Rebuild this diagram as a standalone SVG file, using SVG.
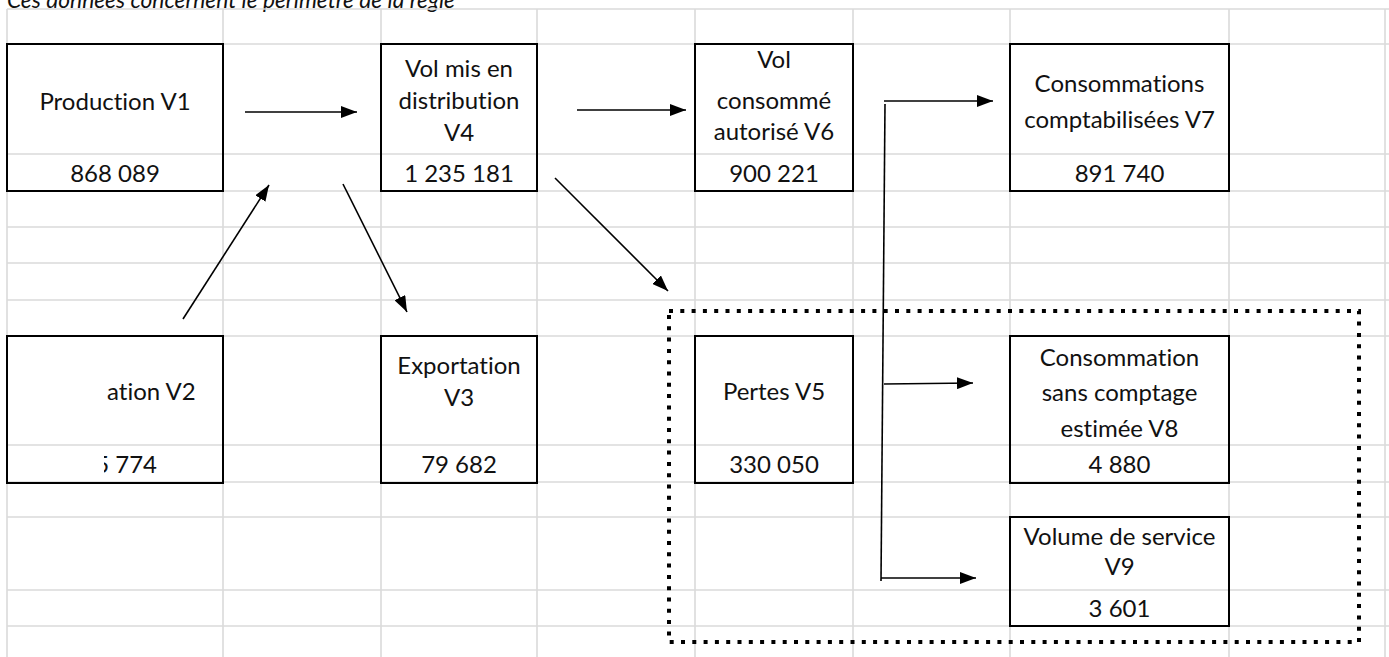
<svg xmlns="http://www.w3.org/2000/svg" width="1389" height="657" viewBox="0 0 1389 657">
<style>
  .grid line { stroke: #dadada; stroke-width: 1.6; }
  .box { fill: none; stroke: #000; stroke-width: 2; }
  .t { font-family: Lato, "Liberation Sans", sans-serif; font-size: 24px; fill: #111; text-anchor: middle; font-variant-ligatures: none; }
  .title { font-family: Lato, "Liberation Sans", sans-serif; font-size: 24px; font-style: italic; fill: #111; font-variant-ligatures: none; }
  .conn { stroke: #000; stroke-width: 1.6; fill: none; }
  .dotted { fill: none; stroke: #000; stroke-width: 4; stroke-dasharray: 4 7.3; }
</style>
<defs>
  <marker id="ah" viewBox="0 0 16 12" refX="16" refY="6" markerWidth="16" markerHeight="12" markerUnits="userSpaceOnUse" orient="auto">
    <path d="M0,0 L16,6 L0,12 z" fill="#000"/>
  </marker>
  <clipPath id="clipV2">
    <rect x="104" y="330" width="130" height="160"/>
  </clipPath>
</defs>
<rect width="1389" height="657" fill="#fff"/>
<text class="title" x="7" y="8" textLength="448" lengthAdjust="spacingAndGlyphs">Ces données concernent le périmètre de la règle</text>
<g class="grid" id="grid">
  <line x1="7" y1="9" x2="7" y2="657"/>
  <line x1="223" y1="9" x2="223" y2="657"/>
  <line x1="381" y1="9" x2="381" y2="657"/>
  <line x1="537" y1="9" x2="537" y2="657"/>
  <line x1="695" y1="9" x2="695" y2="657"/>
  <line x1="853" y1="9" x2="853" y2="657"/>
  <line x1="1010" y1="9" x2="1010" y2="657"/>
  <line x1="1229" y1="9" x2="1229" y2="657"/>
  <line x1="1385" y1="9" x2="1385" y2="657"/>
  <line x1="7" y1="9" x2="1389" y2="9"/>
  <line x1="7" y1="44" x2="1389" y2="44"/>
  <line x1="7" y1="154" x2="1389" y2="154"/>
  <line x1="7" y1="191" x2="1389" y2="191"/>
  <line x1="7" y1="227" x2="1389" y2="227"/>
  <line x1="7" y1="263" x2="1389" y2="263"/>
  <line x1="7" y1="300" x2="1389" y2="300"/>
  <line x1="7" y1="336" x2="1389" y2="336"/>
  <line x1="7" y1="445" x2="1389" y2="445"/>
  <line x1="7" y1="482" x2="1389" y2="482"/>
  <line x1="7" y1="517" x2="1389" y2="517"/>
  <line x1="7" y1="590" x2="1389" y2="590"/>
  <line x1="7" y1="626" x2="1389" y2="626"/>
</g>
<g id="node-v1">
  <rect class="box" x="7" y="44" width="216" height="147"/>
  <text class="t" x="115" y="110">Production V1</text>
  <text class="t" x="115" y="182">868 089</text>
</g>
<g id="node-v4">
  <rect class="box" x="381" y="44" width="156" height="147"/>
  <text class="t" x="459" y="77">Vol mis en</text>
  <text class="t" x="459" y="109">distribution</text>
  <text class="t" x="459" y="141">V4</text>
  <text class="t" x="459" y="182">1 235 181</text>
</g>
<g id="node-v6">
  <rect class="box" x="695" y="44" width="158" height="147"/>
  <text class="t" x="774" y="68">Vol</text>
  <text class="t" x="774" y="109">consommé</text>
  <text class="t" x="774" y="140">autorisé V6</text>
  <text class="t" x="774" y="182">900 221</text>
</g>
<g id="node-v7">
  <rect class="box" x="1010" y="44" width="219" height="147"/>
  <text class="t" x="1119.5" y="92">Consommations</text>
  <text class="t" x="1119.5" y="128">comptabilisées V7</text>
  <text class="t" x="1119.5" y="182">891 740</text>
</g>
<g id="node-v2">
  <rect class="box" x="7" y="336" width="216" height="147"/>
  <g clip-path="url(#clipV2)">
    <text class="t" x="107" y="400" style="text-anchor:start">ation V2</text>
    <text class="t" x="157" y="473" style="text-anchor:end">5 774</text>
  </g>
</g>
<g id="node-v3">
  <rect class="box" x="381" y="336" width="156" height="147"/>
  <text class="t" x="459" y="374">Exportation</text>
  <text class="t" x="459" y="406">V3</text>
  <text class="t" x="459" y="473">79 682</text>
</g>
<g id="node-v5">
  <rect class="box" x="695" y="336" width="158" height="147"/>
  <text class="t" x="774" y="400">Pertes V5</text>
  <text class="t" x="774" y="473">330 050</text>
</g>
<g id="node-v8">
  <rect class="box" x="1010" y="336" width="219" height="147"/>
  <text class="t" x="1119.5" y="366">Consommation</text>
  <text class="t" x="1119.5" y="401">sans comptage</text>
  <text class="t" x="1119.5" y="437">estimée V8</text>
  <text class="t" x="1119.5" y="473">4 880</text>
</g>
<g id="node-v9">
  <rect class="box" x="1010" y="517" width="219" height="109"/>
  <text class="t" x="1119.5" y="545">Volume de service</text>
  <text class="t" x="1119.5" y="575">V9</text>
  <text class="t" x="1119.5" y="617">3 601</text>
</g>
<g id="connectors">
  <line class="conn" x1="245" y1="112" x2="357" y2="112" marker-end="url(#ah)"/>
  <line class="conn" x1="577" y1="110" x2="686" y2="110" marker-end="url(#ah)"/>
  <line class="conn" x1="183" y1="319" x2="269" y2="185" marker-end="url(#ah)"/>
  <line class="conn" x1="343" y1="184" x2="407" y2="312" marker-end="url(#ah)"/>
  <line class="conn" x1="555" y1="178" x2="668" y2="291" marker-end="url(#ah)"/>
  <line class="conn" x1="885" y1="104" x2="881" y2="581"/>
  <line class="conn" x1="884" y1="101" x2="993" y2="101" marker-end="url(#ah)"/>
  <line class="conn" x1="884" y1="384" x2="973" y2="383" marker-end="url(#ah)"/>
  <line class="conn" x1="881" y1="578" x2="976" y2="578" marker-end="url(#ah)"/>
</g>
<g id="losses-boundary">
  <rect class="dotted" x="669" y="311" width="690" height="331"/>
</g>
</svg>
